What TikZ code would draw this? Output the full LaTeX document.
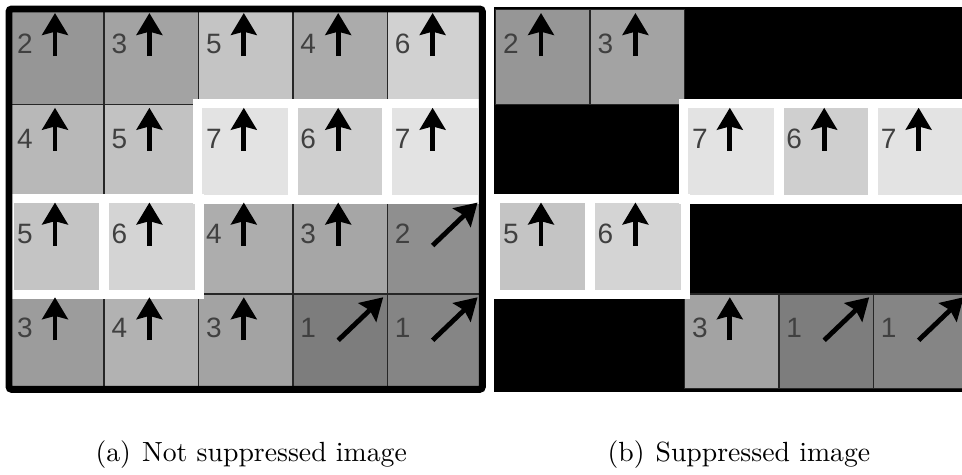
\documentclass[tikz,border=0pt]{standalone}
\usepackage{fontspec}
\newfontfamily\cellfont{Liberation Sans}
\usetikzlibrary{arrows.meta}

% row/col/gray/value/diagonal/kept
\newcommand{\cellvals}{1/1/59/2/0/1, 1/2/64/3/0/1, 1/3/77/5/0/0, 1/4/67/4/0/0, 1/5/82/6/0/0,
  2/1/72/4/0/0, 2/2/76/5/0/0, 2/3/89/7/0/1, 2/4/81/6/0/1, 2/5/89/7/0/1,
  3/1/77/5/0/1, 3/2/83/6/0/1, 3/3/68/4/0/0, 3/4/65/3/0/0, 3/5/56/2/1/0,
  4/1/61/3/0/0, 4/2/70/4/0/0, 4/3/64/3/0/1, 4/4/49/1/1/1, 4/5/52/1/1/1}

\begin{document}
\begin{tikzpicture}[x=0.375pt,y=-0.375pt,
    cell/.style={draw=black!85,line width=0.5pt,anchor=north west,inner sep=0pt,
      minimum width=35.4pt,minimum height=35.53pt},
    num/.style={font=\cellfont\fontsize{10.5}{10.5}\selectfont,text=black!75,inner sep=0pt},
    dir/.style={line width=1.8pt,-{Stealth[length=8.2pt,width=9.6pt,inset=1.2pt]}},
    gap/.style={draw=white,line width=3.4pt},
    subcap/.style={font=\fontsize{10.4}{12}\selectfont,anchor=base west,inner sep=0pt}]
    \useasboundingbox (0,0) rectangle (962,474);
    \begin{scope}
    \clip (0,0) rectangle (962,474);

    % (a) not suppressed
    \foreach \r/\c/\g/\v/\d/\k in \cellvals {
        \node[cell,fill=white!\g!black] (L-\r-\c) at ({9+(\c-1)*94.4},{9+(\r-1)*94.75}) {};
    }
    \foreach \n in {L-2-3,L-2-4,L-2-5,L-3-1,L-3-2}
        \draw[gap] (\n.north west) rectangle (\n.south east);
    \draw[line width=2.6pt,rounded corners=1pt] (L-1-1.north west) rectangle (L-4-5.south east);
    \foreach \r/\c/\g/\v/\d/\k in \cellvals {
        \node[num] (nL-\r-\c) at ([shift={(16,35)}]L-\r-\c.north west) {\v};
        \ifnum\d=0
            \draw[dir] ([shift={(46,47)}]L-\r-\c.north west) -- ([shift={(46,4)}]L-\r-\c.north west);
        \else
            \draw[dir] ([shift={(46,47)}]L-\r-\c.north west) -- ([shift={(91,4)}]L-\r-\c.north west);
        \fi
    }

    % (b) suppressed
    \fill[black] (494,7) rectangle (970,392);
    \foreach \r/\c/\g/\v/\d/\k in \cellvals {
        \ifnum\k=1
            \node[cell,fill=white!\g!black] (R-\r-\c) at ({495+(\c-1)*94.4},{9+(\r-1)*94.75}) {};
        \fi
    }
    \foreach \n in {R-2-3,R-2-4,R-2-5,R-3-1,R-3-2}
        \draw[gap] (\n.north west) rectangle (\n.south east);
    \foreach \r/\c/\g/\v/\d/\k in \cellvals {
        \ifnum\k=1
            \node[num] (nR-\r-\c) at ([shift={(16,35)}]R-\r-\c.north west) {\v};
            \ifnum\d=0
                \draw[dir] ([shift={(46,47)}]R-\r-\c.north west) -- ([shift={(46,4)}]R-\r-\c.north west);
            \else
                \draw[dir] ([shift={(46,47)}]R-\r-\c.north west) -- ([shift={(91,4)}]R-\r-\c.north west);
            \fi
        \fi
    }
    \end{scope}

    \node[subcap] (capA) at (95,461) {(a)\hspace{0.4em}Not suppressed image};
    \node[subcap] (capB) at (607,461) {(b)\hspace{0.4em}Suppressed image};
\end{tikzpicture}
\end{document}
